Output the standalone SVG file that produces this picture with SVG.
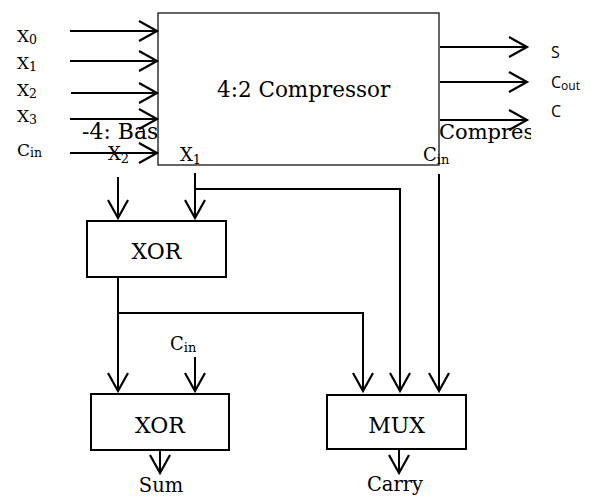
<svg xmlns="http://www.w3.org/2000/svg" width="596" height="497" viewBox="0 0 596 497">
<style>
.serif{font-family:"DejaVu Serif","Liberation Serif",serif;fill:#000}
.sans{font-family:"Open Sans","Liberation Sans",sans-serif;fill:#000}
.wire{fill:none;stroke:#000;stroke-width:2}
.gate{fill:#fff;stroke:#000;stroke-width:2}
</style>
<defs>
<marker id="arr" markerUnits="userSpaceOnUse" markerWidth="24" markerHeight="24" viewBox="-20 -12 24 24" refX="0" refY="0" orient="auto">
<path d="M-18,-10 L0,0 L-18,10" fill="none" stroke="#000" stroke-width="2.2"/>
</marker>
<clipPath id="capclip"><rect x="439" y="110" width="92" height="40"/></clipPath>
</defs>
<rect width="596" height="497" fill="#fff"/>

<g id="caption-fragments">
<text class="serif" x="82" y="139" font-size="22">-4: Bas</text>
<text class="serif" x="439" y="139" font-size="21" clip-path="url(#capclip)">Compres</text>
</g>

<g id="compressor">
<rect x="158" y="13" width="281" height="152" fill="#fff" stroke="#333" stroke-width="1.5"/>
<text class="serif" x="217" y="97" font-size="21.5">4:2 Compressor</text>
<text class="serif" x="180" y="161" font-size="18">X<tspan font-size="13" dy="3">1</tspan></text>
<text class="serif" x="423" y="161" font-size="18">C<tspan font-size="13" dy="3">in</tspan></text>
</g>

<g id="input-labels">
<text class="serif" x="17" y="42" font-size="17">X<tspan font-size="12.5" dy="2">0</tspan></text>
<text class="serif" x="17" y="69" font-size="17">X<tspan font-size="12.5" dy="2">1</tspan></text>
<text class="serif" x="17" y="96" font-size="17">X<tspan font-size="12.5" dy="2">2</tspan></text>
<text class="serif" x="17" y="122" font-size="17">X<tspan font-size="12.5" dy="2">3</tspan></text>
<text class="serif" x="17" y="156" font-size="17">C<tspan font-size="12.5" dy="1">in</tspan></text>
<text class="serif" x="108" y="160" font-size="18">X<tspan font-size="13" dy="3">2</tspan></text>
</g>

<g id="output-labels">
<text class="sans" x="551" y="58" font-size="16">S</text>
<text class="sans" x="551" y="88" font-size="16">C<tspan font-size="12" dy="2">out</tspan></text>
<text class="sans" x="551" y="117" font-size="16">C</text>
</g>

<g id="xor1">
<rect class="gate" x="87" y="221" width="139" height="56"/>
<text class="serif" x="156.5" y="259" font-size="22" text-anchor="middle">XOR</text>
</g>

<g id="xor2">
<rect class="gate" x="91" y="394" width="138" height="56"/>
<text class="serif" x="160" y="433" font-size="22" text-anchor="middle">XOR</text>
</g>

<g id="mux">
<rect class="gate" x="327" y="395" width="139" height="54"/>
<text class="serif" x="396.5" y="433" font-size="22" text-anchor="middle">MUX</text>
</g>

<g id="connectors">
<line class="wire" x1="70" y1="31" x2="157" y2="31" marker-end="url(#arr)"/>
<line class="wire" x1="70" y1="61" x2="157" y2="61" marker-end="url(#arr)"/>
<line class="wire" x1="71" y1="93" x2="157" y2="93" marker-end="url(#arr)"/>
<line class="wire" x1="70" y1="119" x2="157" y2="119" marker-end="url(#arr)"/>
<line class="wire" x1="70" y1="153" x2="157" y2="153" marker-end="url(#arr)"/>
<line class="wire" x1="440" y1="47" x2="527" y2="47" marker-end="url(#arr)"/>
<line class="wire" x1="440" y1="82" x2="527" y2="82" marker-end="url(#arr)"/>
<line class="wire" x1="440" y1="120" x2="527" y2="120" marker-end="url(#arr)"/>
<line class="wire" x1="118" y1="177" x2="118" y2="218" marker-end="url(#arr)"/>
<line class="wire" x1="195" y1="173" x2="195" y2="218" marker-end="url(#arr)"/>
<polyline class="wire" points="195,189 400,189 400,391" marker-end="url(#arr)"/>
<line class="wire" x1="439" y1="174" x2="439" y2="391" marker-end="url(#arr)"/>
<line class="wire" x1="118" y1="277" x2="118" y2="391" marker-end="url(#arr)"/>
<polyline class="wire" points="118,313 363,313 363,391" marker-end="url(#arr)"/>
<line class="wire" x1="195" y1="357" x2="195" y2="391" marker-end="url(#arr)"/>
<line class="wire" x1="160" y1="450" x2="160" y2="473" marker-end="url(#arr)"/>
<line class="wire" x1="399" y1="449" x2="399" y2="473" marker-end="url(#arr)"/>
</g>

<g id="lower-labels">
<text class="serif" x="170" y="350" font-size="18">C<tspan font-size="13" dy="2">in</tspan></text>
<text class="serif" x="161" y="492" font-size="19.5" text-anchor="middle">Sum</text>
<text class="serif" x="395" y="491" font-size="19.5" text-anchor="middle">Carry</text>
</g>
</svg>
